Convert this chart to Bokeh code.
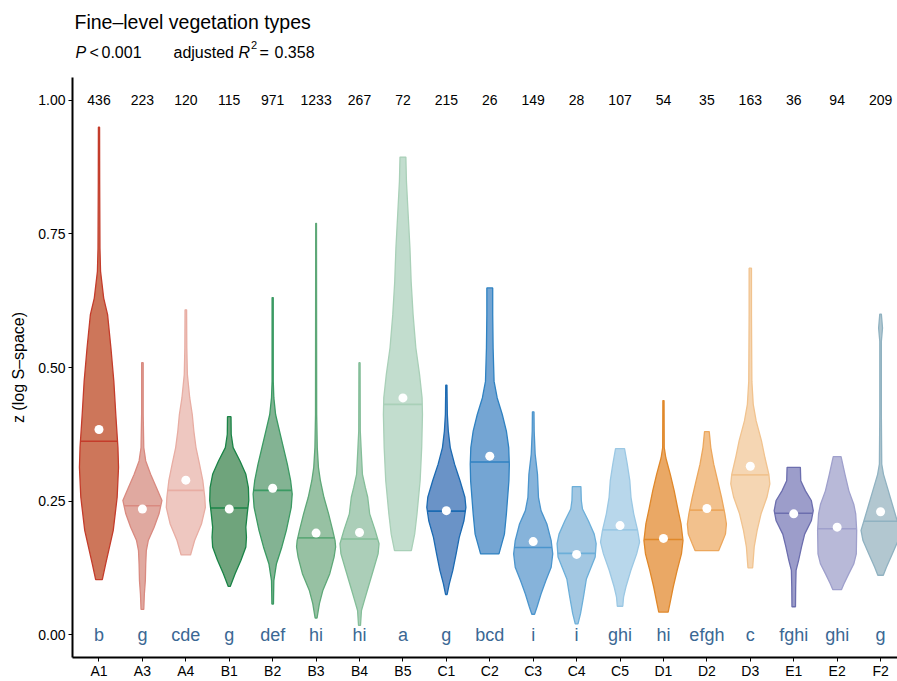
import numpy as np
from bokeh.plotting import figure
from bokeh.layouts import column
from bokeh.models import Range1d, FixedTicker, NumeralTickFormatter
from bokeh.embed import file_html
from bokeh.resources import INLINE
from bokeh.core.properties import value

FONT = "Liberation Sans"

categories = ["A1", "A3", "A4", "B1", "B2", "B3", "B4", "B5", "C1", "C2",
              "C3", "C4", "C5", "D1", "D2", "D3", "E1", "E2", "F2"]
counts = [436, 223, 120, 115, 971, 1233, 267, 72, 215, 26,
          149, 28, 107, 54, 35, 163, 36, 94, 209]
letters = ["b", "g", "cde", "g", "def", "hi", "hi", "a", "g", "bcd",
           "i", "i", "ghi", "hi", "efgh", "c", "fghi", "ghi", "g"]
medians = [0.362, 0.241, 0.270, 0.237, 0.270, 0.181, 0.179, 0.431, 0.231, 0.323,
           0.163, 0.152, 0.196, 0.178, 0.233, 0.299, 0.227, 0.198, 0.212]
means = [0.384, 0.235, 0.289, 0.235, 0.274, 0.190, 0.191, 0.443, 0.232, 0.334,
         0.174, 0.150, 0.204, 0.180, 0.236, 0.315, 0.226, 0.201, 0.230]

fill_colors = ["#CD765A", "#E0A9A0", "#EEC7C0", "#6FA47C", "#83B393", "#97C1A3",
               "#ABCEB8", "#C2DDCE", "#6A93C7", "#74A5D3", "#86B3DA", "#A2C7E2",
               "#B8D7EB", "#EAA865", "#F2C18D", "#F5D6B3", "#9C9DCA", "#B8B9D8",
               "#B2C7D0"]
line_colors = ["#C43C2B", "#D98A80", "#E8ADA3", "#1A8447", "#3B9A63", "#5EA878",
               "#84BE99", "#A9D0B8", "#1B6AB2", "#2F82C2", "#4B95CD", "#6CAFD9",
               "#9BC8E4", "#E0882A", "#ECA75D", "#F1C38F", "#6C6EAE", "#9FA0CC",
               "#90B2C1"]

# violin outlines: z values (top to bottom) and relative density (max = 1)
violin_y = [
    [0.950, 0.848, 0.723, 0.680, 0.630, 0.599, 0.537, 0.474, 0.412, 0.350, 0.313, 0.257, 0.195, 0.132, 0.103],
    [0.509, 0.412, 0.350, 0.325, 0.300, 0.275, 0.251, 0.226, 0.201, 0.176, 0.157, 0.132, 0.101, 0.076, 0.047],
    [0.608, 0.537, 0.487, 0.443, 0.412, 0.381, 0.350, 0.319, 0.288, 0.257, 0.238, 0.207, 0.176, 0.149],
    [0.408, 0.375, 0.350, 0.325, 0.300, 0.275, 0.251, 0.226, 0.201, 0.182, 0.164, 0.139, 0.114, 0.090],
    [0.631, 0.474, 0.443, 0.412, 0.381, 0.350, 0.319, 0.288, 0.263, 0.238, 0.195, 0.164, 0.132, 0.101, 0.057],
    [0.770, 0.412, 0.350, 0.313, 0.288, 0.257, 0.226, 0.195, 0.176, 0.164, 0.145, 0.114, 0.083, 0.058, 0.031],
    [0.509, 0.381, 0.350, 0.300, 0.275, 0.257, 0.226, 0.195, 0.170, 0.151, 0.120, 0.089, 0.064, 0.045, 0.017],
    [0.894, 0.848, 0.785, 0.723, 0.661, 0.599, 0.537, 0.487, 0.443, 0.412, 0.350, 0.288, 0.226, 0.188, 0.157],
    [0.467, 0.412, 0.381, 0.350, 0.319, 0.288, 0.257, 0.238, 0.213, 0.182, 0.151, 0.120, 0.095, 0.075],
    [0.649, 0.599, 0.537, 0.474, 0.443, 0.412, 0.381, 0.350, 0.319, 0.288, 0.226, 0.188, 0.151],
    [0.417, 0.381, 0.338, 0.300, 0.257, 0.232, 0.207, 0.176, 0.151, 0.126, 0.101, 0.076, 0.052, 0.038],
    [0.277, 0.251, 0.235, 0.213, 0.188, 0.170, 0.145, 0.104, 0.070, 0.039, 0.020],
    [0.348, 0.319, 0.288, 0.257, 0.226, 0.195, 0.173, 0.151, 0.120, 0.089, 0.070, 0.053],
    [0.438, 0.350, 0.331, 0.300, 0.269, 0.238, 0.207, 0.176, 0.151, 0.120, 0.089, 0.058, 0.042],
    [0.380, 0.350, 0.319, 0.288, 0.257, 0.226, 0.207, 0.188, 0.170, 0.157],
    [0.686, 0.599, 0.474, 0.431, 0.400, 0.363, 0.331, 0.300, 0.282, 0.257, 0.226, 0.195, 0.164, 0.125],
    [0.313, 0.288, 0.269, 0.251, 0.232, 0.213, 0.188, 0.164, 0.139, 0.120, 0.089, 0.052],
    [0.333, 0.300, 0.269, 0.244, 0.226, 0.195, 0.151, 0.132, 0.114, 0.095, 0.084],
    [0.600, 0.574, 0.549, 0.412, 0.319, 0.300, 0.275, 0.244, 0.213, 0.195, 0.176, 0.151, 0.126, 0.111],
]
violin_d = [
    [0.03, 0.035, 0.05, 0.08, 0.24, 0.44, 0.61, 0.76, 0.86, 0.97, 1.0, 0.93, 0.73, 0.34, 0.17],
    [0.04, 0.04, 0.07, 0.17, 0.42, 0.72, 1.0, 0.85, 0.6, 0.3, 0.2, 0.17, 0.15, 0.1, 0.07],
    [0.04, 0.05, 0.08, 0.2, 0.33, 0.41, 0.52, 0.7, 0.87, 0.97, 1.0, 0.8, 0.45, 0.24],
    [0.09, 0.1, 0.2, 0.55, 0.85, 0.98, 1.0, 0.92, 0.85, 0.88, 0.85, 0.6, 0.3, 0.05],
    [0.03, 0.03, 0.06, 0.15, 0.35, 0.55, 0.75, 0.92, 1.0, 0.95, 0.7, 0.47, 0.19, 0.06, 0.04],
    [0.02, 0.03, 0.06, 0.12, 0.22, 0.4, 0.64, 0.85, 0.97, 1.0, 0.92, 0.7, 0.35, 0.17, 0.05],
    [0.03, 0.04, 0.08, 0.15, 0.3, 0.42, 0.52, 0.8, 1.0, 0.95, 0.7, 0.45, 0.25, 0.1, 0.05],
    [0.15, 0.18, 0.27, 0.36, 0.42, 0.52, 0.66, 0.85, 0.98, 1.0, 0.96, 0.88, 0.72, 0.6, 0.43],
    [0.03, 0.05, 0.1, 0.2, 0.42, 0.7, 0.95, 1.0, 0.9, 0.66, 0.5, 0.33, 0.15, 0.04],
    [0.15, 0.15, 0.17, 0.22, 0.38, 0.64, 0.85, 0.97, 1.0, 0.98, 0.85, 0.75, 0.47],
    [0.04, 0.05, 0.1, 0.22, 0.27, 0.4, 0.7, 0.92, 1.0, 0.92, 0.65, 0.4, 0.2, 0.07],
    [0.22, 0.24, 0.3, 0.6, 0.9, 1.0, 0.95, 0.5, 0.35, 0.2, 0.07],
    [0.23, 0.37, 0.5, 0.56, 0.7, 0.9, 1.0, 0.85, 0.55, 0.3, 0.18, 0.14],
    [0.03, 0.04, 0.12, 0.35, 0.55, 0.72, 0.9, 1.0, 0.92, 0.7, 0.5, 0.33, 0.24],
    [0.12, 0.2, 0.35, 0.55, 0.75, 0.92, 1.0, 0.95, 0.75, 0.6],
    [0.06, 0.06, 0.08, 0.15, 0.3, 0.57, 0.75, 0.95, 1.0, 0.85, 0.55, 0.35, 0.2, 0.12],
    [0.34, 0.36, 0.6, 0.9, 1.0, 0.9, 0.56, 0.4, 0.25, 0.12, 0.1, 0.09],
    [0.2, 0.4, 0.6, 0.85, 0.95, 1.0, 0.98, 0.85, 0.6, 0.35, 0.22],
    [0.04, 0.1, 0.04, 0.04, 0.06, 0.15, 0.35, 0.6, 0.85, 1.0, 0.9, 0.6, 0.3, 0.14],
]

y_ticks = [0.0, 0.25, 0.5, 0.75, 1.0]

title_text = "Fine–level vegetation types"
y_label = "z (log S–space)"
subtitle_parts = ["P", "<", "0.001", "adjusted", "R", "2", "=", "0.358"]
subtitle_styles = ["italic", "normal", "normal", "normal", "italic", "normal", "normal", "normal"]

HALF = 0.45  # half of the violin width (in category units)
W = 897
HEAD_H = 68
FRAME_LEFT = 72

# ---------------- header with title / subtitle ----------------
# (the column aligns this frame with the main frame, so x here = page pixels)
head = figure(width=W, height=HEAD_H, output_backend="svg", toolbar_location=None,
              x_range=Range1d(FRAME_LEFT, W), y_range=Range1d(0, HEAD_H),
              x_axis_type=None, y_axis_type=None, min_border=0)
head.outline_line_color = None
head.grid.visible = False
head.text(x=[74], y=[47], text=[title_text], text_font=value(FONT), text_font_size="19.5px",
          text_baseline="alphabetic", text_align="left", text_color="black")
sub_x = [75, 89, 101, 173, 238, 250.5, 259, 274]
sub_y = [16.5, 16.5, 16.5, 16.5, 16.5, 24, 16.5, 16.5]
sub_size = ["16px", "16px", "16px", "16px", "16px", "11px", "16px", "16px"]
head.text(x=sub_x, y=sub_y, text=subtitle_parts, text_font=value(FONT),
          text_font_size=sub_size, text_font_style=subtitle_styles,
          text_baseline="alphabetic", text_align="left", text_color="black")

# ---------------- main violin panel ----------------
p = figure(width=W, height=681 - HEAD_H, output_backend="svg", toolbar_location=None,
           x_range=Range1d(-0.61, 18.39), y_range=Range1d(-0.043, 1.043),
           min_border_left=FRAME_LEFT, min_border_right=0, min_border_top=9,
           min_border_bottom=18)
p.outline_line_color = None
p.xgrid.visible = False
p.ygrid.visible = False

xs, ys, seg_x0, seg_x1 = [], [], [], []
for i, (yy, dd) in enumerate(zip(violin_y, violin_d)):
    yy = np.array(yy)
    w = np.array(dd) * HALF
    xs.append(list(i - w) + list((i + w)[::-1]))
    ys.append(list(yy) + list(yy[::-1]))
    wm = float(np.interp(medians[i], yy[::-1], w[::-1]))
    seg_x0.append(i - wm)
    seg_x1.append(i + wm)

idx = list(range(len(categories)))

p.patches(xs, ys, fill_color=fill_colors, line_color=line_colors, line_width=1.3)
p.segment(x0=seg_x0, y0=medians, x1=seg_x1, y1=medians, line_color=line_colors, line_width=1.6)
p.scatter(x=idx, y=means, size=9, fill_color="white", line_color=None)

p.text(x=idx, y=[1.0] * len(idx), text=[str(c) for c in counts], text_align="center",
       text_baseline="middle", text_font=value(FONT), text_font_size="14px", text_color="black")
p.text(x=idx, y=[0.0] * len(idx), text=letters, text_align="center",
       text_baseline="middle", text_font=value(FONT), text_font_size="18px", text_color="#3B6894")

p.xaxis.ticker = FixedTicker(ticks=idx)
p.xaxis.major_label_overrides = {i: c for i, c in enumerate(categories)}
p.yaxis.ticker = FixedTicker(ticks=y_ticks)
p.yaxis.formatter = NumeralTickFormatter(format="0.00")
for ax in (p.xaxis[0], p.yaxis[0]):
    ax.axis_line_width = 2
    ax.axis_line_color = "black"
    ax.major_tick_line_color = "black"
    ax.major_tick_line_width = 1
    ax.major_tick_out = 4
    ax.major_tick_in = 0
    ax.minor_tick_line_color = None
    ax.major_label_text_font = FONT
    ax.major_label_text_font_size = "14px"
    ax.major_label_text_color = "black"
    ax.major_label_standoff = 3
p.xaxis.major_label_standoff = 1
p.yaxis.axis_label = y_label
p.yaxis.axis_label_text_font = FONT
p.yaxis.axis_label_text_font_size = "16px"
p.yaxis.axis_label_text_font_style = "normal"
p.yaxis.axis_label_text_color = "black"
p.yaxis.axis_label_standoff = 8

layout = column(head, p, spacing=0)
open("out.html", "w").write(file_html(layout, INLINE))
